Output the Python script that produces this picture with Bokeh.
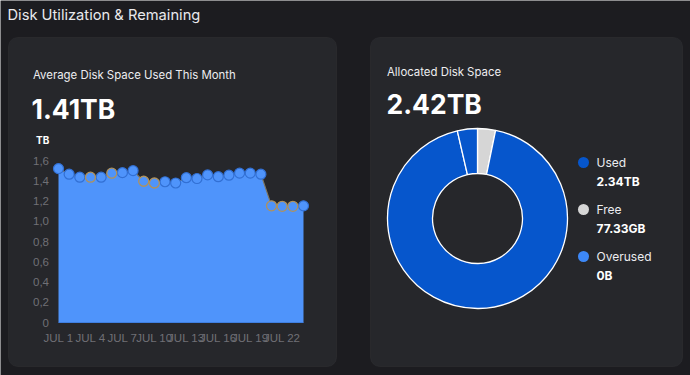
from bokeh.plotting import figure
from bokeh.models import Range1d, BoxAnnotation
from bokeh.core.properties import value
from bokeh.embed import file_html
from bokeh.resources import INLINE
import numpy as np

# ---- data -------------------------------------------------------------
# average disk space used per day in July (TB)
days = [1, 2, 3, 4, 5, 6, 7, 8, 9, 10, 11, 12,
        13, 14, 15, 16, 17, 18, 19, 20, 21, 22, 23, 24]
usage_tb = [1.52, 1.465, 1.435, 1.435, 1.435, 1.475, 1.48, 1.50, 1.395, 1.378, 1.39, 1.378,
            1.43, 1.422, 1.458, 1.44, 1.455, 1.475, 1.475, 1.465, 1.152, 1.147, 1.147, 1.152]
# days whose point is highlighted with an outlined marker
flagged_days = [4, 6, 9, 10, 21, 22, 23]

x_tick_days = [1, 4, 7, 10, 13, 16, 19, 22]
x_tick_labels = ["JUL 1", "JUL 4", "JUL 7", "JUL 10", "JUL 13", "JUL 16", "JUL 19", "JUL 22"]
y_ticks = [0, 0.2, 0.4, 0.6, 0.8, 1.0, 1.2, 1.4, 1.6]
y_tick_labels = ["0", "0,2", "0,4", "0,6", "0,8", "1,0", "1,2", "1,4", "1,6"]

avg_label = "1.41TB"
alloc_label = "2.42TB"

# allocation legend
alloc_names = ["Used", "Free", "Overused"]
alloc_amounts = ["2.34TB", "77.33GB", "0B"]
alloc_colors = ["#0656cc", "#d6d6d6", "#3d88f7"]

# donut segments (TB), clockwise from 12 o'clock
ring_values = [0.078, 2.255, 0.087]
ring_colors = ["#d6d6d6", "#0656cc", "#0656cc"]

# ---- styling ----------------------------------------------------------
PAGE_BG = "#1c1c20"
CARD_BG = "#26272b"
CARD_EDGE = "#3a3b40"
AREA = "#4f94fb"
FONT = value("Inter")

W, H = 690, 375
p = figure(width=W, height=H, x_range=Range1d(0, W), y_range=Range1d(H, 0),
           x_axis_location=None, y_axis_location=None,
           toolbar_location=None, output_backend="svg", min_border=0,
           background_fill_color=PAGE_BG, border_fill_color=PAGE_BG,
           outline_line_color=None)
p.grid.visible = False

# cards
for left, right in [(8, 336), (370, 682)]:
    p.add_layout(BoxAnnotation(left=left, right=right, top=37, bottom=366,
                               fill_color=CARD_BG, fill_alpha=1.0,
                               line_color=CARD_EDGE, line_width=1,
                               border_radius=9, level="underlay"))

# headings
p.text(x=[7], y=[14.5], text=["Disk Utilization & Remaining"], text_font=FONT,
       text_font_size="14.7px", text_color="#e9e9ec", text_baseline="middle")
p.text(x=[32.5, 386.5], y=[74, 71], text=["Average Disk Space Used This Month", "Allocated Disk Space"],
       text_font=FONT, text_font_size="11.4px", text_color="#ededf0", text_baseline="middle")
p.text(x=[31, 386], y=[108, 103], text=[avg_label, alloc_label], text_font=FONT,
       text_font_size="26.5px", text_font_style="bold", text_color="#ffffff",
       text_baseline="middle")

# ---- area chart (own scales mapped into the left card) -----------------
px_per_day = (303 - 58) / (days[-1] - days[0])
day_start = days[0] - 58 / px_per_day
p.extra_x_ranges = {"day": Range1d(day_start, day_start + W / px_per_day)}
px_per_tb = (322 - 160) / 1.6
p.extra_y_ranges = {"tb": Range1d(-(H - 322) / px_per_tb, 322 / px_per_tb)}

p.varea(x=days, y1=[0] * len(days), y2=usage_tb, fill_color=AREA,
        x_range_name="day", y_range_name="tb")
p.line(x=days, y=usage_tb, line_color="#7f7762", line_width=1.2,
       x_range_name="day", y_range_name="tb")
p.line(x=[days[0], days[-1]], y=[0, 0], line_color="#3f7fe0", line_width=1,
       x_range_name="day", y_range_name="tb")

plain = [(d, v) for d, v in zip(days, usage_tb) if d not in flagged_days]
marked = [(d, v) for d, v in zip(days, usage_tb) if d in flagged_days]
p.scatter(x=[d for d, _ in plain], y=[v for _, v in plain], size=10,
          fill_color=AREA, line_color="#3270d4", line_width=1.2,
          x_range_name="day", y_range_name="tb")
p.scatter(x=[d for d, _ in marked], y=[v for _, v in marked], size=10,
          fill_color=AREA, line_color="#b0925c", line_width=1.3,
          x_range_name="day", y_range_name="tb")

# axis labels
p.text(x=[48.5] * len(y_ticks), y=y_ticks, text=y_tick_labels, y_range_name="tb",
       text_font=value("Liberation Sans"), text_font_size="11.5px", text_color="#707076",
       text_align="right", text_baseline="middle")
p.text(x=x_tick_days, y=[337] * len(x_tick_days), text=x_tick_labels, x_range_name="day",
       text_font=value("Liberation Sans"), text_font_size="11.5px", text_color="#707076",
       text_align="center", text_baseline="middle")
p.text(x=[35.5], y=[139], text=["TB"], text_font=FONT, text_font_size="10px",
       text_font_style="bold", text_color="#ffffff", text_baseline="middle")

# ---- donut ------------------------------------------------------------
total = sum(ring_values)
cum = np.concatenate([[0.0], np.cumsum(ring_values) / total])
starts = np.pi / 2 - 2 * np.pi * cum[:-1]
ends = np.pi / 2 - 2 * np.pi * cum[1:]
p.annular_wedge(x=477, y=218, inner_radius=45, outer_radius=90,
                inner_radius_units="screen", outer_radius_units="screen",
                start_angle=starts, end_angle=ends, direction="clock",
                fill_color=ring_colors, line_color="#ffffff", line_width=1.3)

# legend
legend_y = [162, 209, 256]
p.scatter(x=[583] * 3, y=legend_y, size=11, fill_color=alloc_colors, line_color=None)
p.text(x=[596] * 3, y=legend_y, text=alloc_names, text_font=FONT, text_font_size="12px",
       text_color="#ededf0", text_baseline="middle")
p.text(x=[596] * 3, y=[y + 18.5 for y in legend_y], text=alloc_amounts, text_font=FONT,
       text_font_size="12px", text_font_style="bold", text_color="#ffffff",
       text_baseline="middle")

open("out.html", "w").write(file_html(p, INLINE))
